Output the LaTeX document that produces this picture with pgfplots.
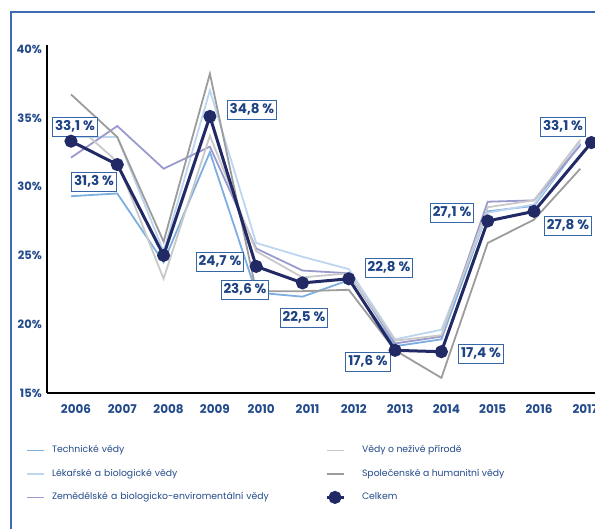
\documentclass[border=0pt]{standalone}
\usepackage{pgfplots}
\pgfplotsset{compat=1.18}
\usepackage{fontspec}
\setmainfont{Poppins}
\definecolor{cT}{HTML}{7DAEE0}
\definecolor{cL}{HTML}{BDD6F0}
\definecolor{cZ}{HTML}{9A9ACF}
\definecolor{cN}{HTML}{C9C9C9}
\definecolor{cS}{HTML}{9C9C9C}
\definecolor{cC}{HTML}{222A66}
\definecolor{frm}{HTML}{3E6AB2}
\definecolor{txt}{HTML}{234A8A}
\definecolor{lbl}{HTML}{1E4384}
\definecolor{bx}{HTML}{3466A8}
\tikzset{lblbox/.style={draw=bx, fill=white, line width=1pt, text=lbl,
    font=\bfseries\fontsize{13.5}{15}\selectfont, inner xsep=2.5pt, inner ysep=3pt,
    text height=10pt, text depth=3pt}}

\pgfplotstableread{
year T L Z N S
2006 29.3 33.6 32.1 34.8 36.7
2007 29.5 33.6 34.4 31.8 33.6
2008 24.5 25.3 31.3 23.3 26.0
2009 32.5 37.0 32.9 33.7 38.2
2010 22.3 25.9 25.5 25.3 22.4
2011 22.0 24.9 23.9 23.4 22.4
2012 23.2 24.0 23.7 23.7 22.5
2013 18.4 18.9 18.6 18.8 18.1
2014 18.9 19.6 19.1 19.2 16.1
2015 28.2 28.1 28.9 28.5 25.9
2016 28.6 28.7 29.0 29.0 27.6
2017 33.1 33.2 33.0 33.4 31.3
}\fields

\pgfplotstableread{
year C
2006 33.3
2007 31.6
2008 25.0
2009 35.1
2010 24.2
2011 23.0
2012 23.3
2013 18.1
2014 18.0
2015 27.5
2016 28.2
2017.24 33.2
}\total

\begin{document}
\begin{tikzpicture}
\begin{axis}[
  scale only axis, width=548pt, height=348pt,
  at={(47pt,136pt)}, anchor=south west,
  xmin=2005.482, xmax=2017.317, ymin=15, ymax=40.29,
  clip=false,
  axis x line=bottom, axis y line=left,
  axis line style={-, black, line width=1.1pt},
  major tick length=0pt,
  xtick={2006,2007,2008,2009,2010,2011,2012,2013,2014,2015,2016,2017},
  xticklabels={2006,2007,2008,2009,2010,2011,2012,2013,2014,2015,2016,2017},
  ytick={15,20,25,30,35,40},
  yticklabels={15\%,20\%,25\%,30\%,35\%,40\%},
  xticklabel style={anchor=center, inner sep=0pt, yshift=-16pt, xshift=5pt, font=\bfseries\fontsize{12}{14}\selectfont, text=txt},
  yticklabel style={anchor=east, inner sep=0pt, xshift=-5pt, font=\bfseries\fontsize{11.5}{13}\selectfont, text=txt},
  legend columns=3, transpose legend, legend cell align=left,
  legend style={draw=none, fill=none, inner xsep=0pt, inner ysep=0pt,
    at={(-0.0383,-0.145)}, anchor=north west,
    font=\fontsize{9.3}{11}\selectfont, text=txt,
    nodes={inner sep=2pt, text height=7pt, text depth=2.5pt},
    row sep=10pt,
    /tikz/column 1/.style={column sep=5pt},
    /tikz/column 2/.style={nodes={text width=271pt}},
    /tikz/column 3/.style={column sep=15pt}},
  legend image code/.code={\draw[mark repeat=2,mark phase=2,#1] plot coordinates {(0pt,0pt) (8.5pt,0pt) (17pt,0pt)};},
]
\addplot[cT, line width=1.8pt] table[x=year, y=T] {\fields};
\addlegendentry{Technické vědy}
\addplot[cL, line width=1.8pt] table[x=year, y=L] {\fields};
\addlegendentry{Lékařské a biologické vědy}
\addplot[cZ, line width=1.8pt] table[x=year, y=Z] {\fields};
\addlegendentry{Zemědělské a biologicko-enviromentální vědy}
\addplot[cN, line width=1.8pt] table[x=year, y=N] {\fields};
\addlegendentry{Vědy o neživé přírodě}
\addplot[cS, line width=1.8pt] table[x=year, y=S] {\fields};
\addlegendentry{Společenské a humanitní vědy}
\addplot[cC, line width=3pt, mark=*, mark size=5pt, mark options={solid}] table[x=year, y=C] {\total};
\addlegendentry{Celkem}

\node[lblbox] at (axis cs:2006.086,34.33) {33,1 \%};
\node[lblbox] at (axis cs:2006.497,30.33) {31,3 \%};
\node[lblbox] at (axis cs:2009.909,35.57) {34,8 \%};
\node[lblbox] at (axis cs:2009.218,24.52) {24,7 \%};
\node[lblbox] at (axis cs:2009.758,22.49) {23,6 \%};
\node[lblbox] at (axis cs:2011.032,20.45) {22,5 \%};
\node[lblbox] at (axis cs:2012.868,24.08) {22,8 \%};
\node[lblbox] at (axis cs:2012.415,17.25) {17,6 \%};
\node[lblbox] at (axis cs:2014.855,17.83) {17,4 \%};
\node[lblbox] at (axis cs:2014.229,28.08) {27,1 \%};
\node[lblbox] at (axis cs:2016.734,27.14) {27,8 \%};
\node[lblbox] at (axis cs:2016.626,34.33) {33,1 \%};
\end{axis}
\draw[frm, line width=1.5pt] (11pt,-5pt) -- (11pt,517pt) -- (600pt,517pt);
\pgfresetboundingbox
\useasboundingbox (0,0) rectangle (595pt,529pt);
\end{tikzpicture}
\end{document}
